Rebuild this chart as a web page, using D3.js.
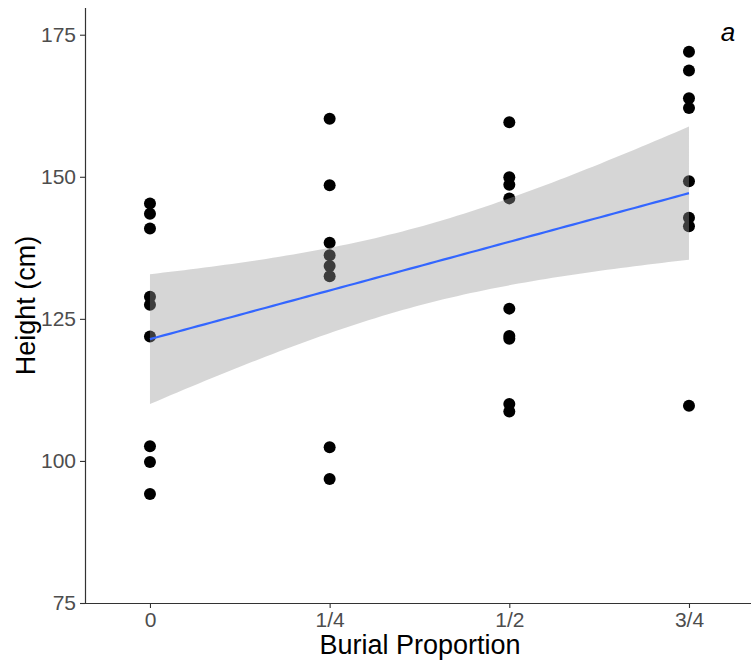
<!DOCTYPE html>
<html>
<head>
<meta charset="utf-8">
<script src="https://cdn.jsdelivr.net/npm/d3@7"></script>
<style>
  html, body { margin: 0; padding: 0; background: #fff; }
  svg { display: block; }
</style>
</head>
<body>
<svg id="chart" width="751" height="665"></svg>
<script>
// Burial proportion groups and measured plant heights (cm)
const burialLevels = [0, 0.25, 0.5, 0.75];
const burialLabels = ["0", "1/4", "1/2", "3/4"];
const heights0   = [145.3, 143.5, 140.9, 128.9, 127.5, 121.9, 102.6, 99.8, 94.2];
const heights25  = [160.2, 148.5, 138.4, 136.2, 134.3, 132.5, 102.4, 96.8];
const heights50  = [159.6, 149.9, 148.6, 146.2, 126.8, 122.0, 121.5, 110.0, 108.7];
const heights75  = [172.0, 168.7, 163.8, 162.1, 149.2, 142.8, 141.3, 109.7];
const yTicks = [75, 100, 125, 150, 175];

const groups = [heights0, heights25, heights50, heights75];
const points = [];
groups.forEach((g, i) => g.forEach(h => points.push({ x: burialLevels[i], y: h })));

const svg = d3.select("#chart");
const margin = { left: 85, right: 1, top: 8, bottom: 62 };
const W = 751, H = 665;

const x = d3.scaleLinear().domain([-0.0904, 0.8349]).range([margin.left, W - margin.right]);
const y = d3.scaleLinear().domain([75, 179.7]).range([H - margin.bottom, margin.top]);

// Ordinary least squares fit with 95% confidence band
const n = points.length;
const mx = d3.mean(points, d => d.x);
const my = d3.mean(points, d => d.y);
const sxx = d3.sum(points, d => (d.x - mx) ** 2);
const sxy = d3.sum(points, d => (d.x - mx) * (d.y - my));
const slope = sxy / sxx;
const intercept = my - slope * mx;
const sse = d3.sum(points, d => (d.y - (intercept + slope * d.x)) ** 2);
const s = Math.sqrt(sse / (n - 2));
const tCrit = 2.0369; // t quantile, df = 32
const fitX = d3.range(0, 80).map(i => 0.75 * i / 79);
const fit = fitX.map(xv => {
  const yhat = intercept + slope * xv;
  const se = s * Math.sqrt(1 / n + (xv - mx) ** 2 / sxx);
  return { x: xv, y: yhat, lo: yhat - tCrit * se, hi: yhat + tCrit * se };
});

// Points first, then the translucent band over them, then the fit line
svg.append("g").selectAll("circle")
  .data(points).join("circle")
  .attr("cx", d => x(d.x))
  .attr("cy", d => y(d.y))
  .attr("r", 6)
  .attr("fill", "#000");

svg.append("path")
  .datum(fit)
  .attr("fill", "#999999")
  .attr("fill-opacity", 0.4)
  .attr("d", d3.area().x(d => x(d.x)).y0(d => y(d.lo)).y1(d => y(d.hi)));

svg.append("path")
  .datum(fit)
  .attr("fill", "none")
  .attr("stroke", "#3366FF")
  .attr("stroke-width", 2.2)
  .attr("d", d3.line().x(d => x(d.x)).y(d => y(d.y)));

// Axes
const axisColor = "#333333";
const xAxis = svg.append("g")
  .attr("transform", `translate(0,${H - margin.bottom})`)
  .call(d3.axisBottom(x).tickValues(burialLevels).tickFormat((d, i) => burialLabels[i]).tickSize(5).tickPadding(4).tickSizeOuter(0));
const yAxis = svg.append("g")
  .attr("transform", `translate(${margin.left},0)`)
  .call(d3.axisLeft(y).tickValues(yTicks).tickSize(5).tickPadding(4).tickSizeOuter(0));

[xAxis, yAxis].forEach(g => {
  g.select(".domain").attr("stroke", axisColor).attr("stroke-width", 1.2);
  g.selectAll(".tick line").attr("stroke", axisColor).attr("stroke-width", 1.1);
  g.selectAll(".tick text")
    .attr("fill", "#4D4D4D")
    .attr("font-family", "'Liberation Sans', Arial, sans-serif")
    .attr("font-size", 21);
});
xAxis.select(".domain").attr("d", `M${margin.left},0.5H${W}`);
yAxis.select(".domain").attr("d", `M0.5,${margin.top}V${H - margin.bottom}`);

// Axis titles
svg.append("text")
  .attr("x", (margin.left + W) / 2 + 2)
  .attr("y", 654)
  .attr("text-anchor", "middle")
  .attr("font-family", "'Liberation Sans', Arial, sans-serif")
  .attr("font-size", 27)
  .attr("fill", "#000")
  .text("Burial Proportion");

svg.append("text")
  .attr("transform", `translate(35,${(margin.top + H - margin.bottom) / 2}) rotate(-90)`)
  .attr("text-anchor", "middle")
  .attr("font-family", "'Liberation Sans', Arial, sans-serif")
  .attr("font-size", 27)
  .attr("fill", "#000")
  .text("Height (cm)");

// Panel letter
svg.append("text")
  .attr("x", 728)
  .attr("y", 41)
  .attr("text-anchor", "middle")
  .attr("font-family", "'Liberation Sans', Arial, sans-serif")
  .attr("font-style", "italic")
  .attr("font-size", 26)
  .attr("fill", "#000")
  .text("a");
</script>
</body>
</html>
